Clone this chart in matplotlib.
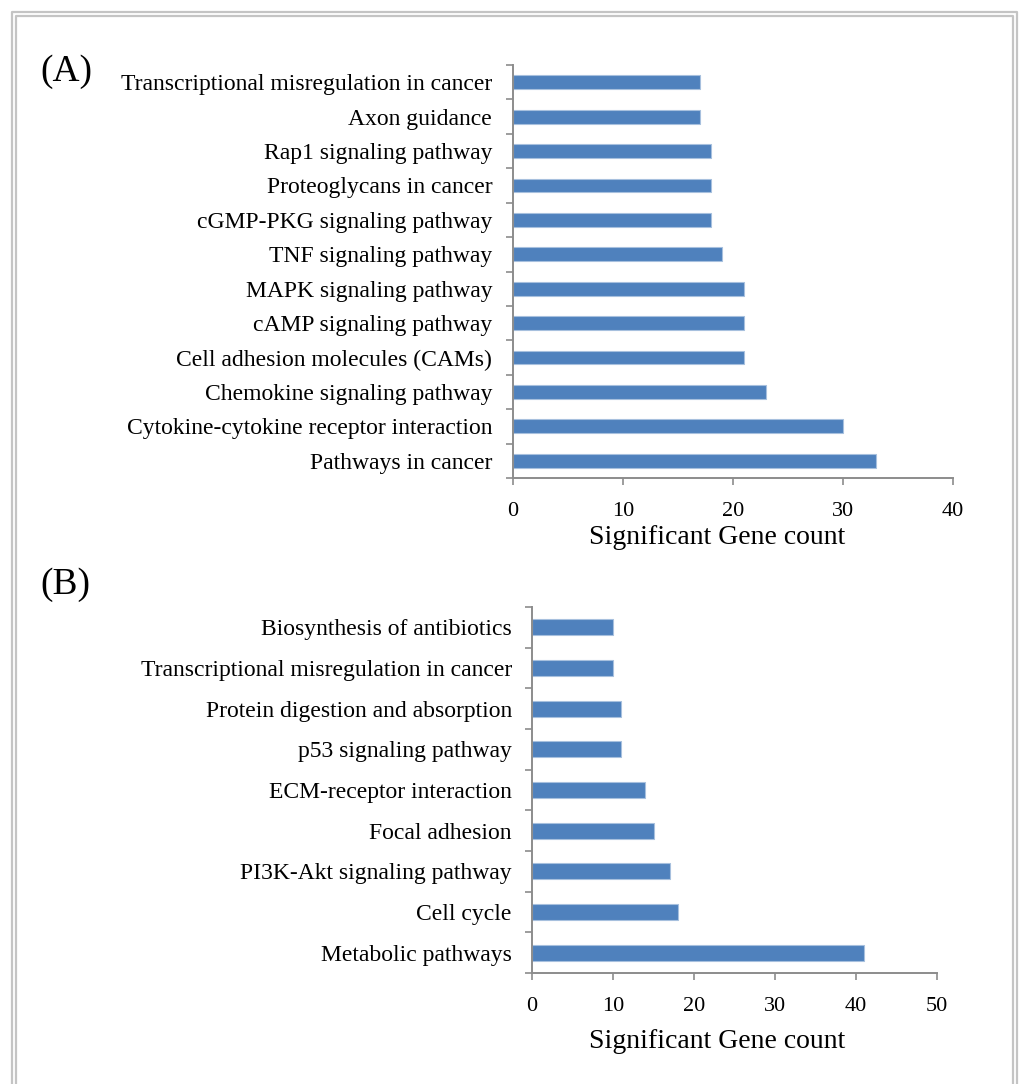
import matplotlib.pyplot as plt
import numpy as np
from matplotlib.lines import Line2D

plt.rcParams['font.family'] = ['Liberation Serif', 'DejaVu Serif']

# panel A: KEGG pathways (top to bottom as shown)
pathways_a = ["Transcriptional misregulation in cancer", "Axon guidance",
              "Rap1 signaling pathway", "Proteoglycans in cancer",
              "cGMP-PKG signaling pathway", "TNF signaling pathway",
              "MAPK signaling pathway", "cAMP signaling pathway",
              "Cell adhesion molecules (CAMs)", "Chemokine signaling pathway",
              "Cytokine-cytokine receptor interaction", "Pathways in cancer"]
counts_a = [17, 17, 18, 18, 18, 19, 21, 21, 21, 23, 30, 33]

# panel B
pathways_b = ["Biosynthesis of antibiotics", "Transcriptional misregulation in cancer",
              "Protein digestion and absorption", "p53 signaling pathway",
              "ECM-receptor interaction", "Focal adhesion",
              "PI3K-Akt signaling pathway", "Cell cycle", "Metabolic pathways"]
counts_b = [10, 10, 11, 11, 14, 15, 17, 18, 41]

W, H = 1023, 1084
fig = plt.figure(figsize=(W / 100, H / 100), dpi=100)

def px(x0, y0, x1, y1):
    # pixel box -> figure fraction rect
    return [x0 / W, 1 - y1 / H, (x1 - x0) / W, (y1 - y0) / H]

def draw_panel(ax, names, vals, xmax, pad):
    n = len(names)
    ypos = np.arange(n)[::-1]
    ax.barh(ypos, vals, height=0.4, color='#4F81BD', edgecolor='#A7C0DE', linewidth=0.8)
    ax.set_xlim(0, xmax)
    ax.set_ylim(-0.5, n - 0.5)
    ax.set_yticks(ypos)
    ax.set_yticklabels(names, fontsize=17)
    ax.set_yticks(np.arange(n + 1) - 0.5, minor=True)
    ax.tick_params(axis='y', which='major', length=0, pad=pad)
    ax.tick_params(axis='y', which='minor', length=5, width=1.2, color='#8c8c8c', direction='out')
    ax.set_xticks(np.arange(0, xmax + 1, 10))
    ax.tick_params(axis='x', length=5, width=1.2, color='#8c8c8c', labelsize=16, pad=12)
    for s in ['top', 'right']:
        ax.spines[s].set_visible(False)
    for s in ['left', 'bottom']:
        ax.spines[s].set_color('#8c8c8c')
        ax.spines[s].set_linewidth(1.4)

ax_a = fig.add_axes(px(513, 65, 953, 478))
draw_panel(ax_a, pathways_a, counts_a, 40, 15)
ax_b = fig.add_axes(px(532, 607, 937, 973))
draw_panel(ax_b, pathways_b, counts_b, 50, 14.5)

fig.text(717 / W, 1 - 538 / H, "Significant Gene count", fontsize=20, ha='center', va='center')
fig.text(717 / W, 1 - 1041 / H, "Significant Gene count", fontsize=20, ha='center', va='center')
fig.text(40 / W, 1 - 72 / H, "(A)", fontsize=27, ha='left', va='center')
fig.text(40 / W, 1 - 585 / H, "(B)", fontsize=27, ha='left', va='center')

# double grey frame
for off in (11.5, 15.5):
    xs = [off / W, off / W, (W - off + 5) / W, (W - off + 5) / W]
    ys = [0, 1 - off / H, 1 - off / H, 0]
    fig.add_artist(Line2D(xs, ys, color='#c4c4c4', linewidth=1.6))

fig.savefig("out.png", dpi=100)
